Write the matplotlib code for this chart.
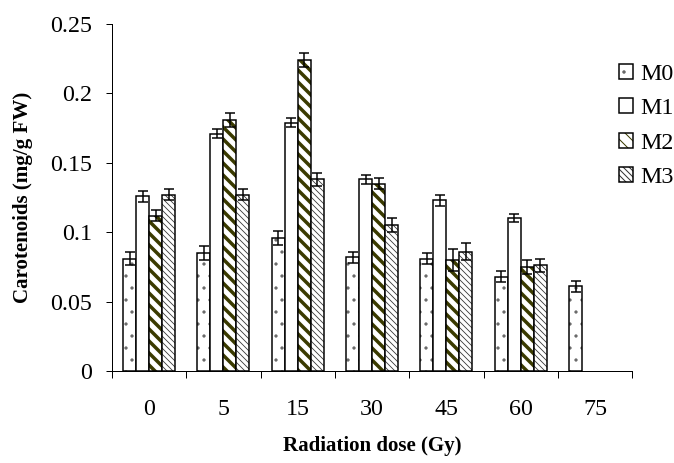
import numpy as np
import matplotlib
matplotlib.use('Agg')
import matplotlib.pyplot as plt
from matplotlib.patches import Patch
from matplotlib.legend_handler import HandlerTuple

doses = ['0', '5', '15', '30', '45', '60', '75']
series = ['M0', 'M1', 'M2', 'M3']

m0 = [0.081, 0.085, 0.096, 0.082, 0.081, 0.068, 0.061]
m1 = [0.126, 0.171, 0.179, 0.138, 0.123, 0.110, np.nan]
m2 = [0.112, 0.181, 0.224, 0.135, 0.080, 0.075, np.nan]
m3 = [0.127, 0.127, 0.138, 0.105, 0.086, 0.076, np.nan]

m0_err = [0.005, 0.005, 0.005, 0.004, 0.004, 0.004, 0.004]
m1_err = [0.004, 0.003, 0.003, 0.003, 0.004, 0.003, np.nan]
m2_err = [0.004, 0.005, 0.005, 0.004, 0.008, 0.005, np.nan]
m3_err = [0.004, 0.004, 0.005, 0.005, 0.006, 0.005, np.nan]

plt.rcParams['font.family'] = 'Liberation Serif'

# hatch style for each series: (pattern, hatch colour, hatch line width)
styles = [('.', '#666666', 0.8), ('', 'black', 1.0),
          ('\\\\', '#3a3a00', 3.5), ('\\\\\\\\', '#333333', 0.8)]

fig = plt.figure(figsize=(674 / 72, 463 / 72), dpi=72)
ax = fig.add_axes([0.166, 0.199, 0.772, 0.749])

x = np.arange(len(doses))
w = 0.175
handles = []
for k, (vals, errs, (hatch, hcol, hlw)) in enumerate(
        zip([m0, m1, m2, m3], [m0_err, m1_err, m2_err, m3_err], styles)):
    pos = x + (k - 1.5) * w
    hb = ax.bar(pos, vals, w, color='white', edgecolor=hcol, linewidth=0, hatch=hatch)
    for p in hb:
        if hasattr(p, 'set_hatch_linewidth'):
            p.set_hatch_linewidth(hlw)
    ax.bar(pos, vals, w, fill=False, edgecolor='black', linewidth=1.5)
    ax.errorbar(pos, vals, yerr=errs, fmt='none', ecolor='black',
                elinewidth=1.5, capsize=5, capthick=1.5)
    hp = Patch(facecolor='white', edgecolor=hcol, linewidth=0, hatch=hatch)
    if hasattr(hp, 'set_hatch_linewidth'):
        hp.set_hatch_linewidth(min(hlw, 2.5))
    op = Patch(fill=False, edgecolor='black', linewidth=1.5)
    handles.append((hp, op))

ax.set_xlim(-0.5, 6.5)
ax.set_ylim(0, 0.25)
ax.set_yticks([0, 0.05, 0.1, 0.15, 0.2, 0.25])
ax.set_yticklabels(['0', '0.05', '0.1', '0.15', '0.2', '0.25'])
ax.set_xticks(np.arange(-0.5, 7, 1))
ax.set_xticklabels([])
ax.set_xticks(x, minor=True)
ax.set_xticklabels(doses, minor=True)
ax.tick_params(axis='x', which='minor', length=0, pad=28, labelsize=24)
ax.tick_params(axis='x', which='major', length=7, width=1, direction='out')
ax.tick_params(axis='y', length=6, width=1, labelsize=24, pad=14)

for s in ['top', 'right']:
    ax.spines[s].set_visible(False)
ax.spines['left'].set_linewidth(1)
ax.spines['bottom'].set_linewidth(1)

ax.set_xlabel('Radiation dose (Gy)', fontsize=21, fontweight='bold', labelpad=16)
ax.set_ylabel('Carotenoids (mg/g FW)', fontsize=21, fontweight='bold', labelpad=17)

fig.legend(handles, series, handler_map={tuple: HandlerTuple(ndivide=1, pad=0)},
           loc='upper left', bbox_to_anchor=(0.918, 0.862), frameon=False,
           fontsize=24, handlelength=0.58, handleheight=0.58, handletextpad=0.3,
           labelspacing=0.56, borderaxespad=0, borderpad=0)

fig.savefig('out.png', dpi=72)
